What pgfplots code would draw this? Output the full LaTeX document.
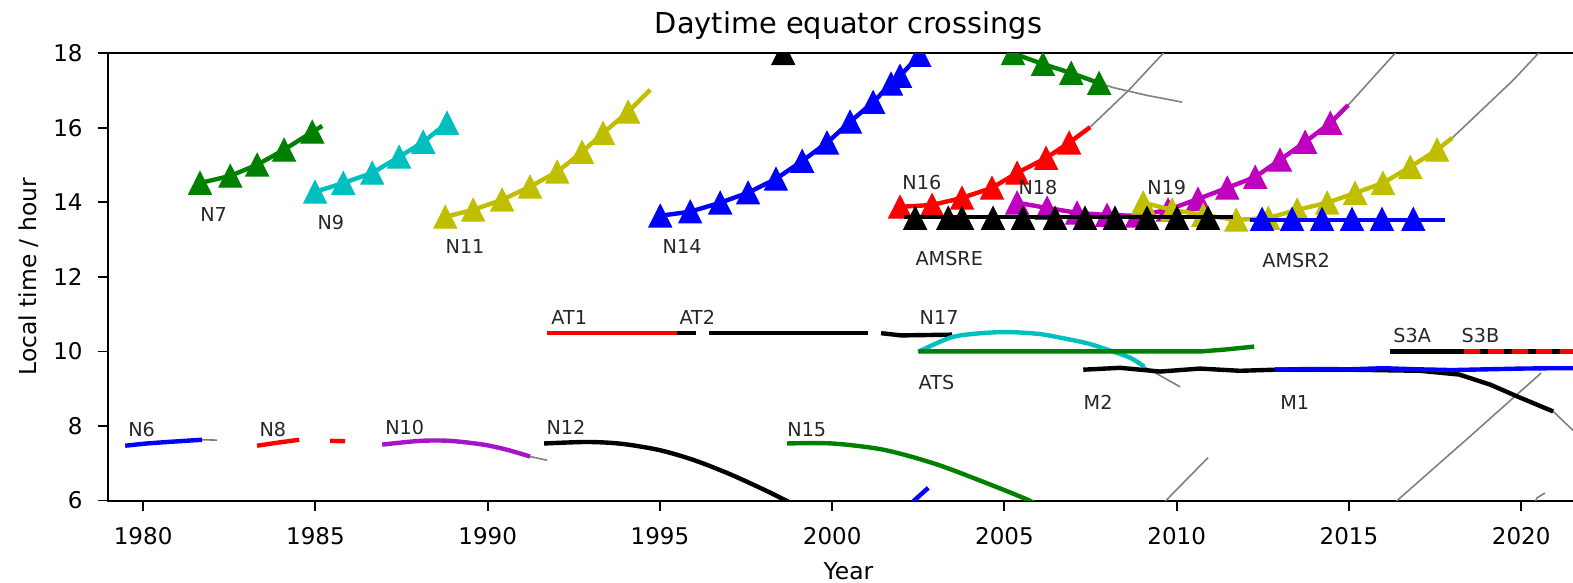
\documentclass[border=0pt]{standalone}
\usepackage{fontspec}
\setmainfont{DejaVu Sans}
\usepackage{pgfplots}
\pgfplotsset{compat=1.18}

\definecolor{mb}{rgb}{0,0,1}
\definecolor{mg}{rgb}{0,0.5,0}
\definecolor{mr}{rgb}{1,0,0}
\definecolor{mc}{rgb}{0,0.75,0.75}
\definecolor{mm}{rgb}{0.75,0,0.75}
\definecolor{my}{rgb}{0.75,0.75,0}
\definecolor{mv}{rgb}{0.65,0.08,0.78}
\definecolor{ext}{rgb}{0.5,0.5,0.5}

\pgfplotsset{
  seg/.style={line width=2.2pt, no markers},
  tri/.style={line width=2.2pt, mark=triangle*, mark size=6.5pt,
    mark options={solid, line width=0.6pt, yshift=-1.87pt, yscale=1.15}},
  trim/.style={tri, only marks},
  ext/.style={line width=0.8pt, color=ext, no markers},
}
\tikzset{lab/.style={anchor=west, inner sep=0pt, font=\fontsize{9.6}{11}\selectfont, text=black!85}}

\begin{document}
\begin{tikzpicture}
\begin{axis}[
  name=ax,
  scale only axis, width=740.5pt, height=223.6pt,
  xmin=1978.98, xmax=2021.97, ymin=6, ymax=18,
  xtick={1980,1985,...,2020}, ytick={6,8,...,18},
  xtick pos=left, ytick pos=left, tick align=outside,
  major tick length=5pt,
  every tick/.style={black, line width=0.9pt},
  axis line style={line width=1pt},
  clip marker paths=true,
  tick label style={font=\fontsize{11.5}{13}\selectfont,
    /pgf/number format/assume math mode=true, inner sep=0pt},
  xticklabel style={/pgf/number format/1000 sep={}, anchor=north, yshift=-8.5pt},
  yticklabel style={anchor=east, xshift=-7.5pt},
  title={Daytime equator crossings},
  title style={at={(axis description cs:0.5,1)}, anchor=base, yshift=4pt,
    font=\fontsize{14.4}{16}\selectfont},
  xlabel={Year}, ylabel={Local time / hour},
  xlabel style={at={(axis description cs:0.5,0)}, anchor=base, yshift=-39.5pt,
    inner sep=0pt, font=\fontsize{11.7}{13}\selectfont},
  ylabel style={at={(axis description cs:-0.0533,0.5)}, anchor=center,
    font=\fontsize{11.7}{13}\selectfont},
]

% extrapolations (thin grey)
\addplot[ext] coordinates {(1981.71,7.63)(1982.15,7.62)};
\addplot[ext] coordinates {(1991.23,7.18)(1991.73,7.08)};
\addplot[ext] coordinates {(2007.49,16.02)(2008.6,17.0)(2009.61,18.0)(2009.9,18.3)};
\addplot[ext] coordinates {(2007.75,17.20)(2008.16,17.08)(2009.14,16.87)(2010.16,16.69)};
\addplot[ext] coordinates {(2014.98,16.61)(2016.34,18.0)(2016.6,18.3)};
\addplot[ext] coordinates {(2018.00,15.73)(2019.77,17.28)(2020.5,18.0)(2020.8,18.3)};
\addplot[ext] coordinates {(2009.06,9.59)(2010.10,9.05)};
\addplot[ext] coordinates {(2009.5,5.8)(2009.69,6.0)(2010.91,7.15)};
\addplot[ext] coordinates {(2016.2,5.8)(2016.40,6.0)(2018.49,7.70)(2020.58,9.42)};
\addplot[ext] coordinates {(2020.40,5.95)(2020.46,6.07)(2020.69,6.2)};
\addplot[ext] coordinates {(2020.93,8.39)(2021.6,7.8)(2022,7.4)};

% morning lines
\addplot[seg, mb] coordinates {(1979.48,7.47)(1980.1,7.53)(1980.70,7.57)(1981.71,7.63)};
\addplot[seg, mr] coordinates {(1983.31,7.47)(1983.89,7.55)(1984.53,7.63)};
\addplot[seg, mr] coordinates {(1985.43,7.60)(1985.86,7.59)};
\addplot[seg, mv, smooth] coordinates {(1986.94,7.50)(1988.04,7.60)(1988.91,7.60)(1989.87,7.50)(1990.57,7.36)(1991.23,7.18)};
\addplot[seg, black, smooth] coordinates {(1991.64,7.53)(1992.9,7.57)(1993.9,7.52)(1995.0,7.35)(1996.0,7.08)(1997.0,6.72)(1998.0,6.30)(1998.7,5.98)(1999.3,5.7)};
\addplot[seg, mg, smooth] coordinates {(1998.69,7.53)(2000.0,7.53)(2001.5,7.36)(2003.0,6.98)(2004.5,6.46)(2005.6,6.05)(2006.1,5.82)};
\addplot[seg, mb] coordinates {(2002.25,5.8)(2002.38,6.0)(2002.79,6.34)};

% AT / N17
\addplot[seg, mr] coordinates {(1991.73,10.50)(1995.50,10.50)};
\addplot[seg, black] coordinates {(1995.50,10.50)(1996.05,10.50)};
\addplot[seg, black] coordinates {(1996.43,10.50)(2001.05,10.50)};
\addplot[seg, black] coordinates {(2001.42,10.49)(2002.0,10.43)(2003.48,10.45)};

% ATS
\addplot[seg, mc, smooth] coordinates {(2002.50,9.99)(2003.43,10.37)(2004.2,10.48)(2005.08,10.52)(2006.0,10.47)(2006.62,10.37)(2007.4,10.22)(2007.98,10.05)(2008.65,9.83)(2009.06,9.59)};
\addplot[seg, mg] coordinates {(2002.50,10.0)(2010.71,10.0)(2011.4,10.05)(2012.25,10.13)};

% M2 / M1
\addplot[seg, black] coordinates {(2007.29,9.51)(2008.36,9.56)(2009.52,9.46)(2010.68,9.54)(2011.84,9.48)(2012.86,9.51)(2015.04,9.51)(2017.07,9.48)(2018.20,9.38)(2019.10,9.11)(2019.97,8.76)(2020.93,8.39)};
\addplot[seg, mb] coordinates {(2012.86,9.51)(2014.0,9.53)(2015.0,9.52)(2016.0,9.55)(2017.0,9.52)(2018.0,9.50)(2019.0,9.52)(2020.0,9.54)(2021.0,9.55)(2022.0,9.55)};

% S3A / S3B
\addplot[seg, black] coordinates {(2016.20,10.0)(2022.0,10.0)};
\addplot[seg, mr, dash pattern=on 8pt off 4pt] coordinates {(2018.35,10.0)(2022.0,10.0)};

% afternoon crossings with markers
\addplot[tri, mg] coordinates {(1981.65,14.52)(1982.53,14.71)(1983.31,15.01)(1984.09,15.41)(1984.91,15.89)};
\addplot[seg, mg] coordinates {(1984.91,15.89)(1985.20,16.05)};
\addplot[tri, mc] coordinates {(1984.99,14.28)(1985.81,14.52)(1986.65,14.79)(1987.43,15.22)(1988.13,15.62)(1988.82,16.13)};
\addplot[tri, my] coordinates {(1988.77,13.61)(1989.58,13.80)(1990.42,14.07)(1991.23,14.42)(1992.02,14.82)(1992.74,15.35)(1993.35,15.86)(1994.08,16.43)};
\addplot[seg, my] coordinates {(1994.08,16.43)(1994.72,17.02)};
\addplot[tri, mb] coordinates {(1995.01,13.64)(1995.88,13.75)(1996.75,13.99)(1997.56,14.26)(1998.37,14.63)(1999.13,15.11)(1999.85,15.60)(2000.52,16.16)(2001.19,16.69)(2001.71,17.18)(2001.97,17.39)(2002.53,17.95)};
\addplot[seg, mb] coordinates {(2002.53,17.95)(2003.0,18.4)};
\addplot[trim, black] coordinates {(1998.58,18.0)};
\addplot[seg, mg] coordinates {(2004.4,18.3)(2005.25,18.0)};
\addplot[tri, mg] coordinates {(2005.25,18.0)(2006.12,17.71)(2006.94,17.47)(2007.75,17.20)};

\addplot[tri, mr] coordinates {(2001.97,13.88)(2002.90,13.93)(2003.77,14.12)(2004.64,14.39)(2005.37,14.79)(2006.21,15.19)(2006.88,15.60)};
\addplot[seg, mr] coordinates {(2006.88,15.60)(2007.49,16.02)};
\addplot[tri, mm] coordinates {(2005.37,13.99)(2006.24,13.85)(2007.11,13.72)(2007.98,13.66)(2008.85,13.64)(2009.75,13.80)(2010.62,14.09)(2011.47,14.39)(2012.28,14.68)(2013.00,15.14)(2013.73,15.62)(2014.46,16.13)};
\addplot[seg, mm] coordinates {(2014.46,16.13)(2014.98,16.61)};
\addplot[tri, my] coordinates {(2009.03,13.99)(2009.87,13.80)(2010.77,13.66)(2011.73,13.53)(2012.66,13.58)(2013.50,13.80)(2014.37,13.99)(2015.18,14.25)(2015.99,14.52)(2016.78,14.95)(2017.56,15.41)};
\addplot[seg, my] coordinates {(2017.56,15.41)(2018.00,15.73)};

% AMSRE / AMSR2
\addplot[seg, black] coordinates {(2002.1,13.6)(2011.64,13.6)};
\addplot[trim, black] coordinates {(2002.41,13.58)(2003.37,13.58)(2003.77,13.58)(2004.67,13.58)(2005.54,13.58)(2006.47,13.58)(2007.34,13.58)(2008.21,13.58)(2009.14,13.58)(2010.01,13.58)(2010.91,13.58)};
\addplot[seg, mb] coordinates {(2012.13,13.53)(2017.79,13.53)};
\addplot[trim, mb] coordinates {(2012.48,13.55)(2013.35,13.55)(2014.22,13.55)(2015.09,13.55)(2015.96,13.55)(2016.87,13.55)};

% satellite names
\node[lab] at (axis cs:1981.65,13.68) {N7};
\node[lab] at (axis cs:1985.05,13.46) {N9};
\node[lab] at (axis cs:1988.77,12.82) {N11};
\node[lab] at (axis cs:1995.07,12.82) {N14};
\node[lab] at (axis cs:2002.03,14.53) {N16};
\node[lab] at (axis cs:2005.40,14.40) {N18};
\node[lab] at (axis cs:2009.14,14.40) {N19};
\node[lab] at (axis cs:2002.41,12.50) {AMSRE};
\node[lab] at (axis cs:2012.48,12.44) {AMSR2};
\node[lab] at (axis cs:1991.84,10.91) {AT1};
\node[lab] at (axis cs:1995.56,10.91) {AT2};
\node[lab] at (axis cs:2002.53,10.91) {N17};
\node[lab] at (axis cs:2002.50,9.17) {ATS};
\node[lab] at (axis cs:2007.29,8.64) {M2};
\node[lab] at (axis cs:2013.00,8.64) {M1};
\node[lab] at (axis cs:2016.28,10.43) {S3A};
\node[lab] at (axis cs:2018.26,10.43) {S3B};
\node[lab] at (axis cs:1979.56,7.90) {N6};
\node[lab] at (axis cs:1983.37,7.90) {N8};
\node[lab] at (axis cs:1987.02,7.97) {N10};
\node[lab] at (axis cs:1991.70,7.97) {N12};
\node[lab] at (axis cs:1998.69,7.91) {N15};
\end{axis}
% hide any marker parts that rise above the top spine
\fill[white] ([xshift=70pt, yshift=0.55pt]ax.north west) rectangle ([yshift=6.2pt]ax.north east);
\pgfresetboundingbox
\useasboundingbox (-54pt,-41.25pt) rectangle (732.5pt,250.25pt);
\end{tikzpicture}
\end{document}
